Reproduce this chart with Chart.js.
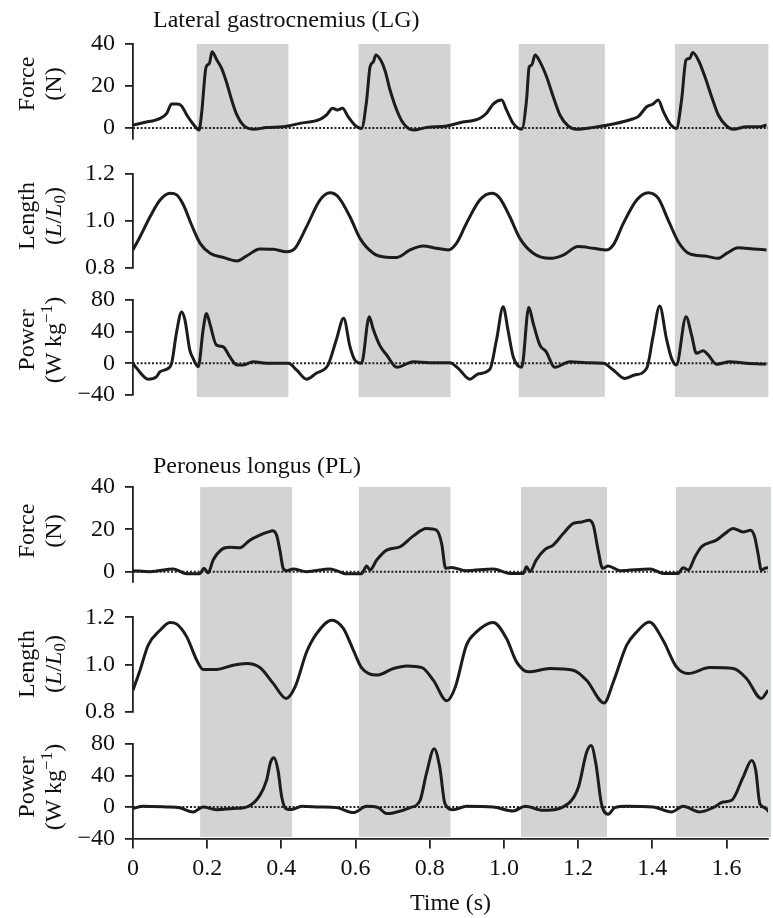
<!DOCTYPE html>
<html><head><meta charset="utf-8">
<script src="https://cdn.jsdelivr.net/npm/chart.js@4.4.1/dist/chart.umd.min.js"></script>
<style>
html,body{margin:0;padding:0;background:#fff;}
#wrap{position:relative;width:773px;height:918px;overflow:hidden;font-family:'Liberation Serif','Times New Roman',serif;color:#111;}
.pane{position:absolute;left:0;width:773px;}
.pane canvas{display:block;}
.ttl{position:absolute;font-size:24px;line-height:24px;white-space:nowrap;}
.ylab{position:absolute;left:-30px;width:140px;height:54px;font-size:24px;line-height:27px;text-align:center;white-space:nowrap;transform:rotate(-90deg);}
.ylab sub{font-size:17px;line-height:0;vertical-align:-4px;}
.ylab sup{font-size:17px;line-height:0;vertical-align:9px;}
</style></head>
<body><div id="wrap">
<div class="pane" style="top:0px;height:154px"><canvas id="c1" width="773" height="154"></canvas></div>
<div class="pane" style="top:154px;height:130px"><canvas id="c2" width="773" height="130"></canvas></div>
<div class="pane" style="top:284px;height:136px"><canvas id="c3" width="773" height="136"></canvas></div>
<div class="pane" style="top:420px;height:178px"><canvas id="c4" width="773" height="178"></canvas></div>
<div class="pane" style="top:598px;height:130px"><canvas id="c5" width="773" height="130"></canvas></div>
<div class="pane" style="top:728px;height:190px"><canvas id="c6" width="773" height="190"></canvas></div>
<div class="ttl" style="left:153px;top:7px">Lateral gastrocnemius (LG)</div>
<div class="ttl" style="left:153px;top:453px">Peroneus longus (PL)</div>
<div class="ylab" style="top:57px">Force<br>(N)</div>
<div class="ylab" style="top:189px">Length<br>(<i>L</i>/<i>L</i><sub>0</sub>)</div>
<div class="ylab" style="top:313px">Power<br>(W kg<sup>−1</sup>)</div>
<div class="ylab" style="top:504px">Force<br>(N)</div>
<div class="ylab" style="top:637px">Length<br>(<i>L</i>/<i>L</i><sub>0</sub>)</div>
<div class="ylab" style="top:760px">Power<br>(W kg<sup>−1</sup>)</div>
</div>
<script>
// ---------- data ----------
const timeMax = 1.712;
const xTickValues = [0, 0.2, 0.4, 0.6, 0.8, 1.0, 1.2, 1.4, 1.6];
const forceTicks = [0, 20, 40];
const lengthTicks = [0.8, 1.0, 1.2];
const powerTicks = [-40, 0, 40, 80];

const lgShadeStart = [0.172, 0.608, 1.040, 1.461];
const lgShadeEnd   = [0.419, 0.856, 1.272, 1.713];
const plShadeStart = [0.181, 0.609, 1.046, 1.464];
const plShadeEnd   = [0.429, 0.856, 1.278, 1.72];

const lgForceT = [0,0.03,0.073,0.091,0.104,0.118,0.131,0.145,0.162,0.178,0.185,0.197,0.206,0.213,0.226,0.239,0.253,0.266,0.28,0.297,0.324,0.36,0.405,0.45,0.504,0.522,0.538,0.551,0.565,0.58,0.598,0.616,0.63,0.639,0.648,0.655,0.67,0.68,0.693,0.711,0.729,0.756,0.792,0.846,0.881,0.935,0.953,0.971,0.994,1.007,1.025,1.048,1.061,1.068,1.075,1.084,1.097,1.115,1.133,1.151,1.173,1.196,1.241,1.295,1.349,1.362,1.385,1.402,1.416,1.43,1.447,1.465,1.479,1.491,1.501,1.509,1.524,1.542,1.56,1.578,1.6,1.618,1.654,1.69,1.708];
const lgForceV = [1.4,2.6,4.6,7,11.4,11.4,10.5,6.2,1.9,-1,7,29,30.8,36.3,32.4,28.4,21.3,13.3,6.2,1.4,-0.6,0.2,0.6,2.2,4.1,6.2,9.4,8.6,9.4,5.4,1.4,-0.2,13.3,29,31.6,34.8,31.6,27,18.1,8.6,2.2,-1,0.3,1,2.5,4.6,7,11.4,13.3,8.6,2.2,-0.6,13.3,29,30,34.8,31.6,24.4,14.9,6.2,1,-0.6,0.3,1.9,4.4,5.4,10.1,11.4,13.3,7.8,2.2,-0.2,13.3,32.4,33.2,35.9,32.4,24.4,14.9,6.2,1,-0.6,0.6,0.6,1.4];

const lgLengthT = [0,0.019,0.046,0.073,0.1,0.118,0.136,0.158,0.181,0.208,0.243,0.28,0.306,0.342,0.378,0.414,0.437,0.468,0.504,0.531,0.553,0.585,0.612,0.648,0.684,0.711,0.747,0.782,0.818,0.85,0.872,0.899,0.935,0.967,0.989,1.016,1.043,1.079,1.124,1.16,1.2,1.241,1.277,1.295,1.322,1.358,1.389,1.416,1.443,1.47,1.501,1.542,1.578,1.6,1.632,1.672,1.708];
const lgLengthV = [0.877,0.933,1.018,1.089,1.118,1.111,1.068,0.983,0.905,0.863,0.845,0.83,0.851,0.881,0.88,0.869,0.884,0.976,1.089,1.12,1.103,1.018,0.926,0.863,0.846,0.845,0.877,0.894,0.884,0.877,0.905,0.99,1.089,1.118,1.097,1.018,0.926,0.863,0.841,0.855,0.891,0.884,0.877,0.898,0.99,1.089,1.12,1.097,1.004,0.912,0.86,0.851,0.841,0.862,0.886,0.881,0.877];

const lgPowerT = [0,0.01,0.041,0.063,0.073,0.09,0.104,0.117,0.131,0.14,0.153,0.162,0.176,0.189,0.198,0.207,0.225,0.243,0.261,0.28,0.297,0.324,0.36,0.419,0.441,0.468,0.494,0.526,0.548,0.568,0.585,0.598,0.616,0.637,0.647,0.666,0.684,0.711,0.756,0.8,0.854,0.877,0.908,0.93,0.962,0.98,0.998,1.011,1.025,1.048,1.067,1.079,1.097,1.114,1.137,1.178,1.223,1.268,1.295,1.325,1.352,1.385,1.402,1.42,1.438,1.452,1.465,1.491,1.506,1.519,1.537,1.551,1.573,1.609,1.654,1.708];
const lgPowerV = [0,-6.3,-20,-17,-10.6,-7.6,0,38,65,55,17,6.3,-4.3,42,63,50.5,23,21,8.3,-2,-2,2,0,0,-8.4,-20,-12.6,-2,29.4,56.8,21,4.2,0,58.8,44,22,10.5,-5,2,0.8,0.8,-6.3,-20,-13.5,-7.6,29.4,71.4,42,8.4,-5,70.7,50.5,23,14.6,-5,2,0.8,0,-8.4,-19,-14.8,-6.3,33.7,72.3,31.6,6.3,-2,58.8,35.7,12.6,16,10.5,-1,2,0,-1];

const plForceT = [0,0.046,0.109,0.145,0.18,0.191,0.203,0.216,0.239,0.261,0.288,0.315,0.342,0.365,0.376,0.387,0.396,0.405,0.414,0.432,0.468,0.531,0.576,0.616,0.63,0.639,0.657,0.684,0.72,0.755,0.791,0.818,0.832,0.843,0.859,0.899,0.971,1.016,1.052,1.061,1.07,1.087,1.111,1.133,1.16,1.187,1.21,1.229,1.241,1.254,1.266,1.281,1.313,1.394,1.429,1.47,1.483,1.497,1.515,1.533,1.573,1.596,1.618,1.645,1.665,1.676,1.685,1.694,1.703,1.715];
const plForceV = [0.5,0,1.3,-1,-1,1.6,-0.5,5.5,10.5,11.5,11.3,14.9,17.3,18.8,19.3,17.3,10.2,1.6,0.5,1.3,0,1.3,-1,-1,2.7,0.8,5.5,10.2,11.8,16.8,20.4,19.6,13.4,1.6,2,0.5,1.3,-0.8,-0.8,2.4,0,5.5,10.5,12.6,18,22.8,23.5,24.3,22,10.2,1.6,2.7,0.5,1.3,-0.8,-0.8,1.9,0.8,7,11.8,14.9,18,20.4,18.8,19.6,16.5,8.7,0.8,1.6,2];

const plLengthT = [0,0.019,0.041,0.073,0.1,0.118,0.145,0.172,0.189,0.225,0.27,0.306,0.342,0.378,0.413,0.437,0.468,0.495,0.536,0.567,0.594,0.616,0.657,0.702,0.738,0.779,0.81,0.846,0.869,0.899,0.926,0.971,1.007,1.034,1.066,1.124,1.187,1.223,1.27,1.295,1.331,1.358,1.392,1.429,1.465,1.497,1.555,1.618,1.654,1.694,1.712];
const plLengthV = [0.891,0.976,1.082,1.145,1.178,1.171,1.117,1.018,0.979,0.979,0.997,1.004,0.987,0.92,0.856,0.905,1.053,1.131,1.188,1.153,1.061,0.987,0.955,0.983,0.994,0.987,0.933,0.846,0.905,1.082,1.138,1.178,1.11,1.011,0.969,0.983,0.976,0.933,0.837,0.926,1.082,1.138,1.18,1.103,0.99,0.962,0.987,0.983,0.941,0.856,0.891];

const plPowerT = [0,0.027,0.09,0.126,0.162,0.189,0.225,0.27,0.311,0.342,0.36,0.371,0.38,0.391,0.401,0.412,0.428,0.455,0.504,0.549,0.594,0.63,0.661,0.684,0.701,0.747,0.774,0.791,0.812,0.827,0.841,0.863,0.899,0.971,1.025,1.057,1.106,1.178,1.201,1.223,1.235,1.248,1.263,1.281,1.299,1.331,1.402,1.452,1.483,1.528,1.564,1.591,1.614,1.645,1.668,1.679,1.69,1.703,1.715];
const plPowerV = [-2,0.9,0,-1,-6.3,0,-3.4,-2,0.9,14.8,33.8,57,62.5,46.5,12.7,-2,-3.3,0.9,0,-0.8,-7,0.9,-0.8,-8.4,-7.6,-0.8,8.5,42.3,73.9,50.6,4.3,-3.4,0.9,0,-5,0.9,-4.2,6.3,25.3,69.6,78,54.9,4.3,-9.2,-0.8,0.9,0,-6.3,0.9,-6.3,-0.8,6.3,8.5,38,59.1,46.5,4.3,-0.8,-6.3];

// ---------- drawing ----------
const SERIF = "'Liberation Serif', 'Times New Roman', serif";
const INK = '#1c1c1c';
const FONT_SIZE = 24;
function pts(ts, vs) { return ts.map((t, i) => ({ x: t, y: vs[i] })); }

const shadePlugin = {
  id: 'shade',
  beforeDraw(chart, args, o) {
    const { ctx, chartArea, scales } = chart;
    const x = scales.x;
    const top = o.top === 'area' ? chartArea.top : 0;
    const bottom = o.bottom === 'area' ? chartArea.bottom + (o.extra || 0) : chart.height;
    ctx.save();
    ctx.fillStyle = '#d1d3d4';
    o.starts.forEach((s, i) => {
      const x0 = x.getPixelForValue(s), x1 = x.getPixelForValue(o.ends[i]);
      ctx.fillRect(x0, top, x1 - x0, bottom - top);
    });
    ctx.restore();
  }
};

function fmtTick(v, kind) {
  if (kind === 'len') return Number(v).toFixed(1);
  return String(v).replace('-', '\u2212');
}

function panel(id, cfg) {
  const datasets = [{
    data: pts(cfg.t, cfg.v),
    borderColor: INK, borderWidth: 3, pointRadius: 0,
    cubicInterpolationMode: 'monotone', order: 0
  }];
  if (cfg.zero) {
    datasets.push({
      data: [{ x: 0, y: 0 }, { x: timeMax, y: 0 }],
      borderColor: '#222', borderWidth: 2, borderDash: [2, 1.8],
      pointRadius: 0, order: 1
    });
  }
  const xAxis = {
    type: 'linear', min: 0, max: timeMax,
    display: !!cfg.bottomAxis,
    afterBuildTicks: s => { s.ticks = xTickValues.map(v => ({ value: v })); },
    afterFit: s => { if (cfg.bottomAxis) s.height = cfg.xHeight; s.paddingLeft = 0; s.paddingRight = 0; },
    grid: { drawOnChartArea: false, drawTicks: true, tickLength: 10, color: '#222', lineWidth: 1.8 },
    border: { display: true, color: '#222', width: 1.8 },
    ticks: {
      color: '#111', padding: 6, maxRotation: 0, autoSkip: false,
      font: { family: SERIF, size: FONT_SIZE },
      callback: v => (v === 0 ? '0' : Number(v).toFixed(1))
    },
    title: { display: true, text: 'Time (s)', color: '#111', font: { family: SERIF, size: FONT_SIZE }, padding: { top: 2, bottom: 0 } }
  };
  return new Chart(document.getElementById(id), {
    type: 'line',
    data: { datasets },
    plugins: [shadePlugin],
    options: {
      responsive: false, animation: false, events: [],
      layout: { padding: { left: 0, right: 5, top: cfg.padTop, bottom: cfg.padBottom } },
      plugins: {
        legend: { display: false }, tooltip: { enabled: false }, title: { display: false },
        shade: { starts: cfg.shade[0], ends: cfg.shade[1], top: cfg.shadeTop, bottom: cfg.shadeBottom, extra: cfg.extra || 0 }
      },
      scales: {
        x: xAxis,
        y: {
          type: 'linear', min: cfg.yMin, max: cfg.yMax,
          afterBuildTicks: s => { s.ticks = cfg.ticks.map(v => ({ value: v })); },
          afterFit: s => { s.width = 133; s.paddingTop = 0; s.paddingBottom = 0; },
          grid: { drawOnChartArea: false, drawTicks: true, tickLength: 8, color: '#222', lineWidth: 1.8 },
          border: { display: true, color: '#222', width: 1.8 },
          ticks: { color: '#111', padding: 10, autoSkip: false, font: { family: SERIF, size: FONT_SIZE }, callback: v => fmtTick(v, cfg.kind) }
        }
      }
    }
  });
}

panel('c1', { t: lgForceT, v: lgForceV, ticks: forceTicks, yMin: -5, yMax: 40, kind: 'f', zero: true,
  padTop: 44, padBottom: 15.5, shade: [lgShadeStart, lgShadeEnd], shadeTop: 'area', shadeBottom: 'canvas' });
panel('c2', { t: lgLengthT, v: lgLengthV, ticks: lengthTicks, yMin: 0.8, yMax: 1.2, kind: 'len', zero: false,
  padTop: 20, padBottom: 16, shade: [lgShadeStart, lgShadeEnd], shadeTop: 'canvas', shadeBottom: 'canvas' });
panel('c3', { t: lgPowerT, v: lgPowerV, ticks: powerTicks, yMin: -40, yMax: 80, kind: 'p', zero: true,
  padTop: 16, padBottom: 25, shade: [lgShadeStart, lgShadeEnd], shadeTop: 'canvas', shadeBottom: 'area', extra: 2 });
panel('c4', { t: plForceT, v: plForceV, ticks: forceTicks, yMin: -5, yMax: 40, kind: 'f', zero: true,
  padTop: 67, padBottom: 15.7, shade: [plShadeStart, plShadeEnd], shadeTop: 'area', shadeBottom: 'canvas' });
panel('c5', { t: plLengthT, v: plLengthV, ticks: lengthTicks, yMin: 0.8, yMax: 1.2, kind: 'len', zero: false,
  padTop: 19.3, padBottom: 16.3, shade: [plShadeStart, plShadeEnd], shadeTop: 'canvas', shadeBottom: 'canvas' });
panel('c6', { t: plPowerT, v: plPowerV, ticks: powerTicks, yMin: -40, yMax: 80, kind: 'p', zero: true,
  padTop: 16, padBottom: 0, bottomAxis: true, xHeight: 79.5,
  shade: [plShadeStart, plShadeEnd], shadeTop: 'canvas', shadeBottom: 'area', extra: -1.5 });
</script>
</body></html>
